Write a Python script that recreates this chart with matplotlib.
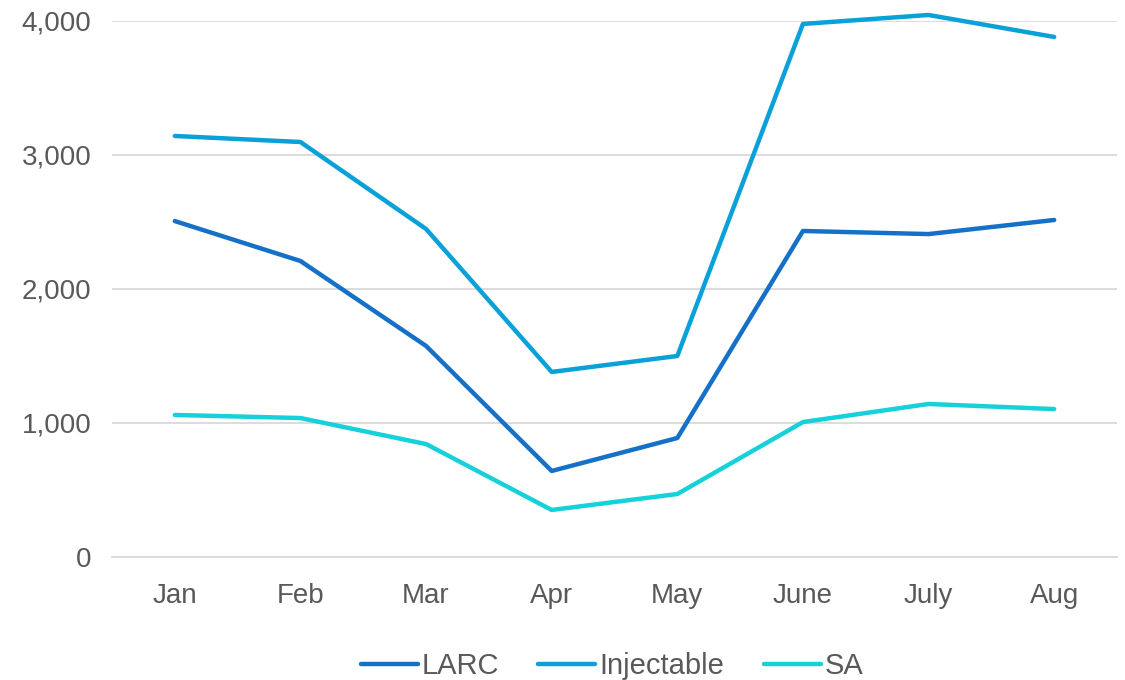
import numpy as np
import matplotlib.pyplot as plt
from matplotlib.ticker import FuncFormatter

months = ['Jan', 'Feb', 'Mar', 'Apr', 'May', 'June', 'July', 'Aug']
larc = [2507, 2209, 1575, 642, 888, 2433, 2410, 2515]
injectable = [3142, 3097, 2448, 1381, 1500, 3978, 4045, 3881]
sa = [1060, 1037, 843, 351, 470, 1007, 1142, 1104]

plt.rcParams['font.family'] = ['Liberation Sans', 'DejaVu Sans']
grey = '#595959'

fig = plt.figure(figsize=(11.25, 6.8), dpi=100)
ax = fig.add_axes([112/1125, 123/680, 1005/1125, 536/680])

x = np.arange(len(months))
for vals, name, col in [(larc, 'LARC', '#1570C8'),
                        (injectable, 'Injectable', '#0AA0D8'),
                        (sa, 'SA', '#16D0DA')]:
    ax.plot(x, vals, color=col, lw=3.2, label=name, clip_on=False,
            solid_capstyle='round', solid_joinstyle='round')

ax.set_xlim(-0.5, len(months) - 0.5)
ax.set_ylim(0, 4000)
ax.set_yticks([0, 1000, 2000, 3000, 4000])
ax.yaxis.set_major_formatter(FuncFormatter(lambda v, p: f'{int(v):,}'))
ax.set_xticks(x)
ax.set_xticklabels(months)
ax.grid(axis='y', color='#D9D9D9', lw=1.3)
ax.set_axisbelow(True)
for s in ['top', 'right', 'left']:
    ax.spines[s].set_visible(False)
ax.spines['bottom'].set_color('#D9D9D9')
ax.spines['bottom'].set_linewidth(1.3)
ax.tick_params(length=0, labelsize=20, colors=grey)
ax.tick_params(axis='x', pad=19)
ax.tick_params(axis='y', pad=15)

leg = fig.legend(loc='center', bbox_to_anchor=(612/1125, 0.020), ncol=3,
                 frameon=False, fontsize=21, handlelength=1.95,
                 handletextpad=0.14, columnspacing=1.35, labelcolor=grey)

fig.savefig('out.png', dpi=100)
